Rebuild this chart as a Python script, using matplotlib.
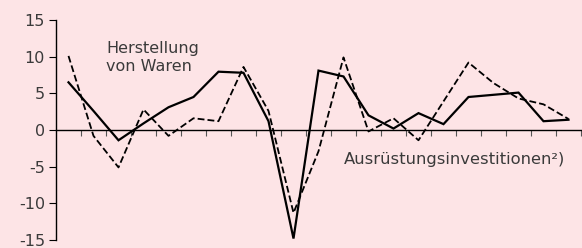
import matplotlib
matplotlib.use("Agg")
import matplotlib.pyplot as plt
import numpy as np

# Data (21 periods)
periods = list(range(21))
herstellung = [6.5, 2.6, -1.4, 0.9, 3.1, 4.5, 7.95, 7.8, 1.2, -14.8, 8.1,
               7.3, 2.0, 0.2, 2.3, 0.8, 4.5, 4.8, 5.1, 1.2, 1.4]
ausruestung = [10.1, -0.8, -5.1, 2.8, -0.8, 1.6, 1.2, 8.6, 2.6, -11.3, -2.9,
               9.9, -0.2, 1.6, -1.4, 3.9, 9.2, 6.4, 4.3, 3.5, 1.5]
y_ticks = [-15, -10, -5, 0, 5, 10, 15]
label_herstellung = "Herstellung\nvon Waren"
label_ausruestung = "Ausrüstungsinvestitionen²)"

bg = "#FDE4E6"
txt = "#3a3a3a"

fig = plt.figure(figsize=(5.82, 2.48), dpi=100, facecolor=bg)
ax = fig.add_axes([56/582, 1-240/248, (581-56)/582, 220/248])
ax.set_facecolor(bg)

x = np.array(periods)
ax.plot(x, herstellung, color="black", lw=1.6, solid_joinstyle="miter")
ax.plot(x, ausruestung, color="black", lw=1.3, linestyle=(0, (3.8, 1.7)))

ax.set_xlim(-0.5, 20.5)
ax.set_ylim(-15, 15)

for s in ["top", "right"]:
    ax.spines[s].set_visible(False)
ax.spines["bottom"].set_position(("data", 0))
ax.spines["bottom"].set_linewidth(1.0)
ax.spines["left"].set_linewidth(1.0)

ax.set_xticks(np.arange(0.5, 21, 1.0))
ax.set_xticklabels([])
ax.tick_params(axis="x", direction="out", length=4, width=0.8, color="#555555")
ax.set_yticks(y_ticks)
ax.set_yticklabels([str(v) for v in y_ticks])
ax.tick_params(axis="y", direction="out", length=5, width=0.8, pad=3,
               labelsize=11.5, labelcolor=txt)

ax.text(1.5, 12.2, label_herstellung, fontsize=11.5, color=txt,
        ha="left", va="top", linespacing=1.25)
ax.text(11.0, -4.7, label_ausruestung, fontsize=11.8, color=txt,
        ha="left", va="baseline")

fig.savefig("out.png", dpi=100, facecolor=bg)
